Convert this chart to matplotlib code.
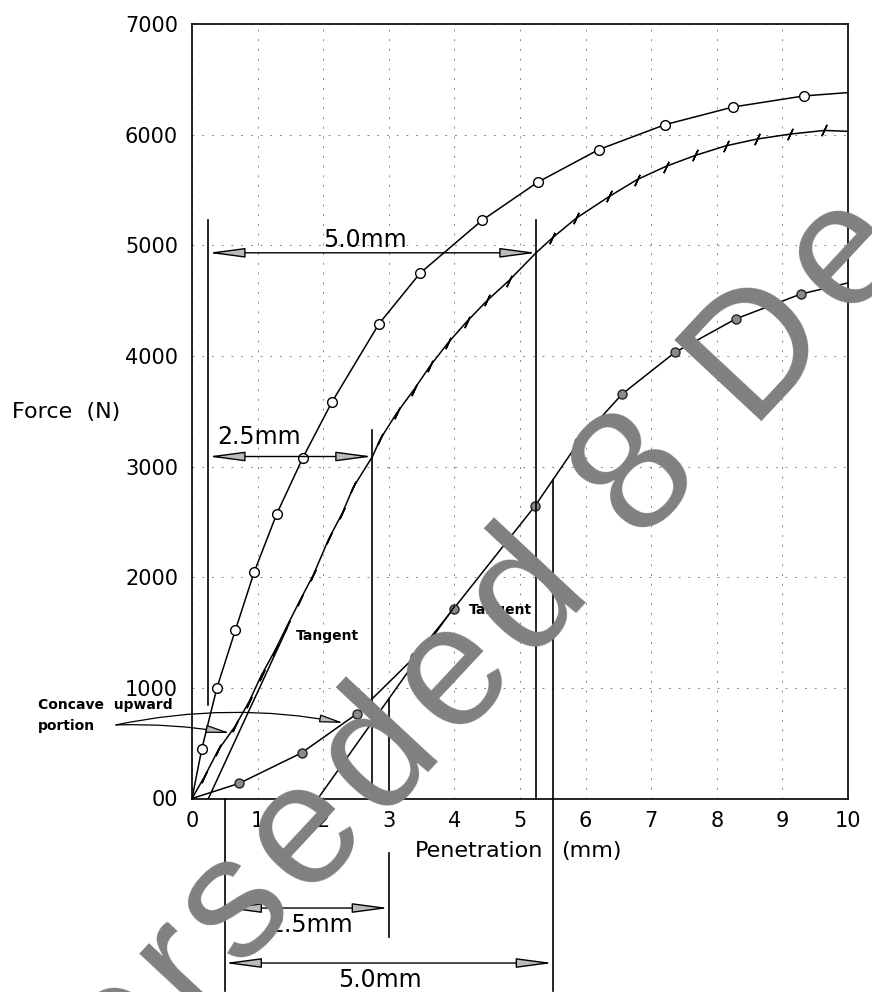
import math
import matplotlib as mpl
mpl.use('Agg')
import matplotlib.pyplot as plt

W, H = 872, 992

# curve with open circles
circ_x = [0, 0.15, 0.38, 0.66, 0.95, 1.29, 1.69, 2.13, 2.85, 3.48, 4.42, 5.27, 6.20, 7.21, 8.25, 9.33, 10.0]
circ_y = [0, 450, 1000, 1520, 2050, 2570, 3080, 3580, 4290, 4750, 5225, 5570, 5865, 6090, 6250, 6350, 6380]

# curve with tick marks
tick_x = [0, 0.19, 0.40, 0.66, 0.87, 1.06, 1.27, 1.45, 1.65, 1.85, 2.09, 2.29, 2.46, 2.75, 2.87, 3.12, 3.38,
          3.63, 3.90, 4.19, 4.50, 4.83, 5.25, 5.49, 5.86, 6.36, 6.78, 7.22, 7.67, 8.14, 8.61, 9.12, 9.64, 10.0]
tick_y = [0, 197, 438, 655, 875, 1117, 1343, 1560, 1795, 2021, 2353, 2578, 2814, 3090, 3248, 3483, 3693,
          3910, 4116, 4311, 4501, 4680, 4935, 5065, 5246, 5441, 5592, 5712, 5812, 5899, 5960, 6005, 6038, 6030]
tick_mark = [False] + [True] * 12 + [False] + [True] * 8 + [False] + [True] * 10 + [False]

# curve with filled dots
dot_x = [0, 0.72, 1.67, 2.51, 3.40, 3.99, 5.23, 5.90, 6.56, 7.36, 8.29, 9.28, 10.0]
dot_y = [0, 137, 412, 764, 1282, 1716, 2645, 3226, 3657, 4031, 4335, 4559, 4660]

# tangents
tan1_x = [0.25, 1.45]
tan1_y = [0, 1540]
tan2_x = [1.92, 4.0]
tan2_y = [0, 1735]

# vertical construction lines (x, y from, y to)
vlines = [(0.25, 845, 5230), (2.75, 0, 3330), (5.25, 0, 5230), (3.0, 0, 903),
          (3.0, -493, -1252), (5.5, -1741, 2880), (0.5, 0, -1741)]

# dimension arrows (x from, x to, y, label, label x, label y)
dims = [(0.25, 5.25, 4932, '5.0mm', 2.64, 5050),
        (0.25, 2.75, 3091, '2.5mm', 1.02, 3268),
        (0.5, 3.0, -990, '2.5mm', 1.82, -1144),
        (0.5, 5.5, -1487, '5.0mm', 2.87, -1641)]

yticks = [0, 1000, 2000, 3000, 4000, 5000, 6000, 7000]
ytick_labels = ['00', '1000', '2000', '3000', '4000', '5000', '6000', '7000']
xticks = list(range(11))

wm_text = 'Superseded 8 Dec'
# Arial advance widths (em)
wm_adv = {'S': .667, 'u': .556, 'p': .556, 'e': .556, 'r': .333, 's': .5, 'd': .556,
          ' ': .278, '8': .556, 'D': .722, 'c': .5}


def fx(px):
    return px / W


def fy(py):
    return 1 - py / H


fig = plt.figure(figsize=(W / 100, H / 100), dpi=100)
ax = fig.add_axes([fx(192), fy(798.5), 656 / W, 774.5 / H])
ax.set_xlim(0, 10)
ax.set_ylim(0, 7000)
for s in ax.spines.values():
    s.set_linewidth(1.2)
ax.set_xticks(xticks)
ax.set_yticks(yticks)
ax.set_yticklabels(ytick_labels)
ax.tick_params(length=0, labelsize=15)
ax.tick_params(axis='y', pad=10)
ax.tick_params(axis='x', pad=9)
ax.grid(True, linestyle=(0, (2, 8)), color='#888888', lw=0.7)

lc = 'black'
ax.plot(circ_x, circ_y, color=lc, lw=1.1)
ax.plot(circ_x[1:-1], circ_y[1:-1], 'o', ms=7, mfc='white', mec=lc, mew=1)

ax.plot(tick_x, tick_y, color=lc, lw=1.1)
ax.plot([x for x, m in zip(tick_x, tick_mark) if m], [y for y, m in zip(tick_y, tick_mark) if m],
        ls='none', marker=(2, 2, -25), ms=9, mec=lc, mew=1.1)

ax.plot(dot_x, dot_y, color=lc, lw=1.1, clip_on=False)
ax.plot(dot_x[1:-1], dot_y[1:-1], 'o', ms=6.5, mfc='#8a8a8a', mec='#222222', mew=1)

ax.plot(tan1_x, tan1_y, color=lc, lw=1.1)
ax.plot(tan2_x, tan2_y, color=lc, lw=1.1)

for x, y0, y1 in vlines:
    ax.plot([x, x], [y0, y1], color=lc, lw=1.2, clip_on=False)

for x0, x1, y, lab, tx, ty in dims:
    ax.annotate('', xy=(x1, y), xytext=(x0, y), annotation_clip=False,
                arrowprops=dict(arrowstyle='<|-|>,head_length=1.5,head_width=0.2', mutation_scale=15,
                                fc='#bbbbbb', ec=lc, lw=1, shrinkA=0, shrinkB=0))
    ax.text(tx, ty, lab, fontsize=17, ha='center', va='center', clip_on=False)

ax.text(2.06, 1469, 'Tangent', fontsize=10, fontweight='bold', ha='center', va='center')
ax.text(4.70, 1705, 'Tangent', fontsize=10, fontweight='bold', ha='center', va='center')

# concave upward leader
fig.text(fx(38), fy(705), 'Concave  upward', fontsize=10, fontweight='bold', ha='left', va='center')
fig.text(fx(38), fy(726), 'portion', fontsize=10, fontweight='bold', ha='left', va='center')
ax.annotate('', xy=(2.31, 683), xytext=(-1.16, 665), annotation_clip=False,
            arrowprops=dict(arrowstyle='-|>,head_length=1.2,head_width=0.2', mutation_scale=12,
                            connectionstyle='arc3,rad=-0.1', fc='#bbbbbb', ec=lc, lw=0.9,
                            shrinkA=0, shrinkB=0))
ax.annotate('', xy=(0.58, 592), xytext=(-1.16, 665), annotation_clip=False,
            arrowprops=dict(arrowstyle='-|>,head_length=1.2,head_width=0.2', mutation_scale=12,
                            connectionstyle='arc3,rad=-0.05', fc='#bbbbbb', ec=lc, lw=0.9,
                            shrinkA=0, shrinkB=0))

fig.text(fx(12), fy(412), 'Force  (N)', fontsize=16, ha='left', va='center')
fig.text(fx(415), fy(851), 'Penetration', fontsize=16, ha='left', va='center')
fig.text(fx(561), fy(851), '(mm)', fontsize=16, ha='left', va='center')

# watermark, laid out letter by letter along a 47 degree baseline
ang = 47
bx, by = math.cos(math.radians(ang)), -math.sin(math.radians(ang))
em_sp = 195           # letter spacing (px per em)
ax8, ay8 = 637.3, 540.0   # baseline-left anchor of the "8"
cum = [0]
for ch in wm_text:
    cum.append(cum[-1] + wm_adv[ch])
i8 = wm_text.index('8')
for i, ch in enumerate(wm_text):
    if ch == ' ':
        continue
    d = (cum[i] - cum[i8]) * em_sp
    px, py = ax8 + d * bx, ay8 + d * by
    fig.text(fx(px), fy(py), ch, fontsize=124, color='#808080', rotation=ang, rotation_mode='anchor',
             family='Liberation Sans', ha='left', va='baseline', zorder=10)

plt.savefig('out.png', dpi=100)
